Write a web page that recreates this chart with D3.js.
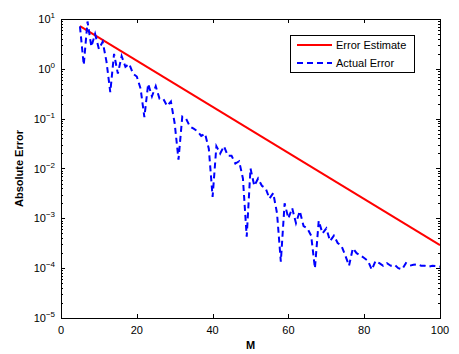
<!DOCTYPE html>
<html>
<head>
<meta charset="utf-8">
<script src="https://cdn.jsdelivr.net/npm/d3@7"></script>
<style>
  body { margin: 0; background: #fff; }
  text { font-family: "Liberation Sans", Arial, sans-serif; }
</style>
</head>
<body>
<div id="chart"></div>
<script>
// data
var mValues = d3.range(5, 101);
var actualError = [
  7.1, 1.2, 8.9, 2.8, 5.0, 2.5, 3.5, 1.4, 0.34, 2.0,
  0.8, 1.8, 1.1, 1.26, 0.8, 0.7, 0.4, 0.107, 0.5, 0.28,
  0.45, 0.25, 0.25, 0.18, 0.22, 0.08, 0.015, 0.11, 0.1, 0.07,
  0.063, 0.056, 0.045, 0.05, 0.025, 0.0027, 0.028, 0.02, 0.028, 0.018,
  0.018, 0.0126, 0.014, 0.0063, 0.00043, 0.01, 0.0045, 0.0063, 0.0045, 0.004,
  0.0025, 0.0032, 0.00126, 0.000135, 0.002, 0.001, 0.0016, 0.0008, 0.0014, 0.0007,
  0.00063, 0.00045, 0.0001, 0.00089, 0.0005, 0.00063, 0.00035, 0.00045, 0.00032, 0.00028,
  0.00018, 0.000112, 0.00025, 0.0002, 0.00018, 0.00016, 0.00014, 0.000093, 0.00014, 0.000126,
  0.000112, 0.000126, 0.000112, 0.000117, 0.0001, 0.000095, 0.000126, 0.000112, 0.000117, 0.00012,
  0.000112, 0.000112, 0.000107, 0.000112, 0.00011, 0.000107
];
var estimateM = [5, 100];
var estimateError = [7.2, 0.00029];
var xTicks = [0, 20, 40, 60, 80, 100];
var yExponents = [1, 0, -1, -2, -3, -4, -5];
var seriesNames = ["Error Estimate", "Actual Error"];

var svgWidth = 459, svgHeight = 354;
var margin = { top: 19, right: 19, bottom: 36, left: 61 };
var width = svgWidth - margin.left - margin.right;
var height = svgHeight - margin.top - margin.bottom;

var svg = d3.select('#chart')
    .append('svg')
    .attr('width', svgWidth)
    .attr('height', svgHeight);

var chartGroup = svg.append('g')
    .attr('transform', `translate(${margin.left}, ${margin.top})`);

var xScale = d3.scaleLinear().domain([0, 100]).range([0, width]);
var yScale = d3.scaleLog().domain([1e-5, 10]).range([height, 0]);

// minor log ticks
var minorTicks = [];
yExponents.slice(1).forEach(e => {
    for (var k = 2; k <= 9; k++) minorTicks.push(k * Math.pow(10, e));
});

var tickGroup = chartGroup.append('g').attr('stroke', '#000').attr('stroke-width', 1);
xTicks.forEach(t => {
    var x = Math.round(xScale(t)) + 0.5;
    tickGroup.append('line').attr('x1', x).attr('x2', x).attr('y1', height).attr('y2', height - 4);
    tickGroup.append('line').attr('x1', x).attr('x2', x).attr('y1', 0).attr('y2', 4);
});
yExponents.forEach(e => {
    var y = Math.round(yScale(Math.pow(10, e))) + 0.5;
    tickGroup.append('line').attr('x1', 0).attr('x2', 4).attr('y1', y).attr('y2', y);
    tickGroup.append('line').attr('x1', width).attr('x2', width - 4).attr('y1', y).attr('y2', y);
});
minorTicks.forEach(v => {
    var y = Math.round(yScale(v)) + 0.5;
    tickGroup.append('line').attr('x1', 0).attr('x2', 2).attr('y1', y).attr('y2', y);
    tickGroup.append('line').attr('x1', width).attr('x2', width - 2).attr('y1', y).attr('y2', y);
});

// tick labels
chartGroup.selectAll('.xlab')
    .data(xTicks)
    .enter()
    .append('text')
    .attr('x', d => xScale(d))
    .attr('y', height + 16)
    .attr('text-anchor', 'middle')
    .attr('font-size', '11px')
    .text(d => d);

var yLabels = chartGroup.selectAll('.ylab')
    .data(yExponents)
    .enter()
    .append('text')
    .attr('x', -6)
    .attr('y', d => yScale(Math.pow(10, d)) + 4)
    .attr('text-anchor', 'end')
    .attr('font-size', '11px');
yLabels.append('tspan').text('10');
yLabels.append('tspan')
    .attr('dy', -5)
    .attr('font-size', '8px')
    .text(d => d < 0 ? '\u2212' + Math.abs(d) : d);

// lines
var line = d3.line()
    .x(d => xScale(d[0]))
    .y(d => yScale(d[1]));

chartGroup.append('path')
    .datum(estimateM.map((m, i) => [m, estimateError[i]]))
    .attr('d', line)
    .attr('fill', 'none')
    .attr('stroke', '#ff0000')
    .attr('stroke-width', 2);

chartGroup.append('path')
    .datum(mValues.map((m, i) => [m, actualError[i]]))
    .attr('d', line)
    .attr('fill', 'none')
    .attr('stroke', '#0000ff')
    .attr('stroke-width', 2)
    .attr('stroke-dasharray', '6,4');

// box
chartGroup.append('rect')
    .attr('x', 0.5).attr('y', 0.5)
    .attr('width', width).attr('height', height)
    .attr('fill', 'none')
    .attr('stroke', '#000')
    .attr('stroke-width', 1);

// legend
var legend = chartGroup.append('g')
    .attr('transform', `translate(${290 - margin.left}, ${35 - margin.top})`);
legend.append('rect')
    .attr('x', 0.5).attr('y', 0.5)
    .attr('width', 124).attr('height', 37)
    .attr('fill', '#fff')
    .attr('stroke', '#000');
var legendColors = ['#ff0000', '#0000ff'];
seriesNames.forEach((name, i) => {
    var y = 10 + i * 18;
    legend.append('line')
        .attr('x1', 7).attr('x2', 42).attr('y1', y).attr('y2', y)
        .attr('stroke', legendColors[i])
        .attr('stroke-width', 2)
        .attr('stroke-dasharray', i === 1 ? '6,4' : null);
    legend.append('text')
        .attr('x', 46).attr('y', y + 4)
        .attr('font-size', '11px')
        .text(name);
});

// axis titles
chartGroup.append('text')
    .attr('x', width / 2)
    .attr('y', height + 31)
    .attr('text-anchor', 'middle')
    .attr('font-size', '11px')
    .attr('font-weight', 'bold')
    .text('M');

chartGroup.append('text')
    .attr('transform', `translate(${-38}, ${height / 2}) rotate(-90)`)
    .attr('text-anchor', 'middle')
    .attr('font-size', '11px')
    .attr('font-weight', 'bold')
    .text('Absolute Error');
</script>
</body>
</html>
